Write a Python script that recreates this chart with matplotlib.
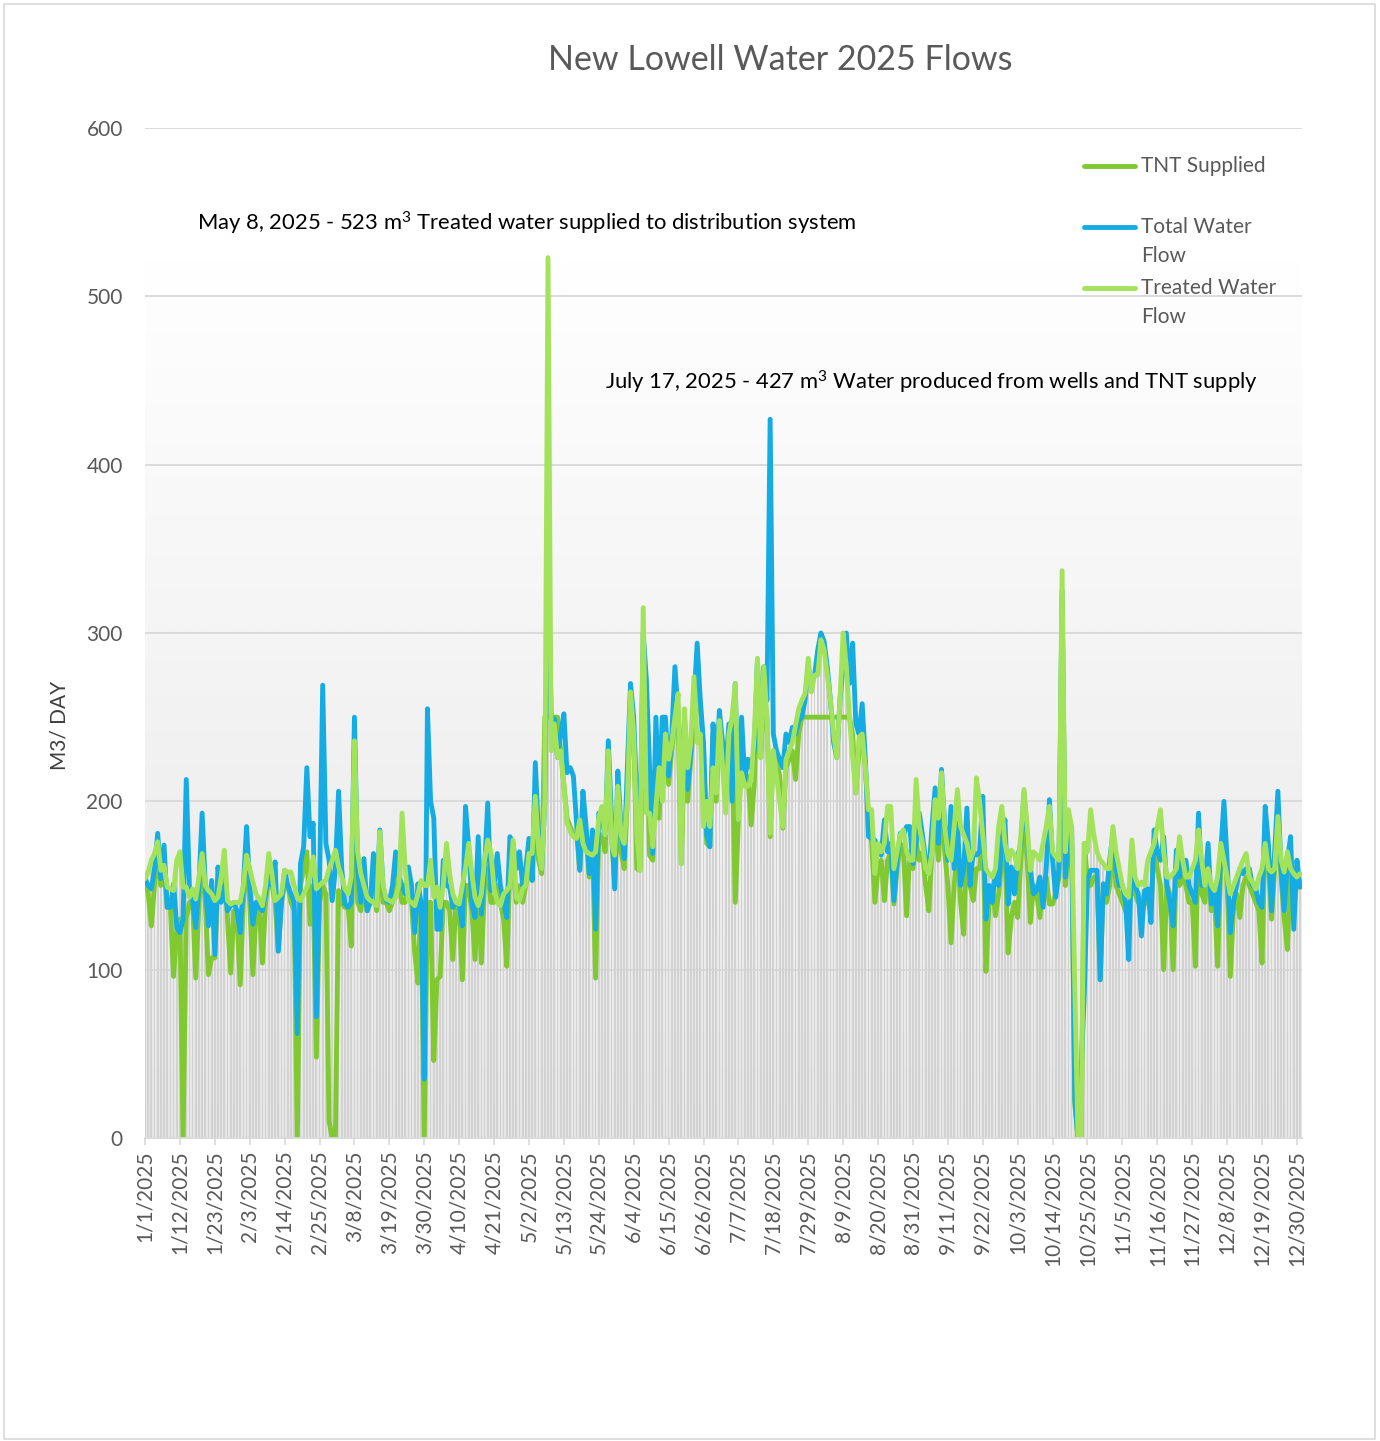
import datetime as dt

import matplotlib

matplotlib.use("Agg")
import matplotlib.pyplot as plt
import numpy as np
from matplotlib.colors import LinearSegmentedColormap
from matplotlib.lines import Line2D
from matplotlib.patches import Rectangle

plt.rcParams["font.family"] = ["Lato", "DejaVu Sans"]
plt.rcParams["mathtext.fontset"] = "custom"
plt.rcParams["mathtext.rm"] = "Lato"
plt.rcParams["mathtext.it"] = "Lato:italic"
plt.rcParams["mathtext.bf"] = "Lato:bold"

W, H = 1380, 1441
START = dt.date(2025, 1, 1)

# daily flows in m3/day (one row per month)
TOTAL_FLOW = [
    154, 150, 148, 160, 181, 154, 174, 137, 137, 151, 125, 122, 130, 213, 149, 141, 125, 150, 193, 150, 126, 153, 109, 161, 140, 150, 135, 138, 140, 135, 122,
    150, 185, 150, 127, 140, 137, 135, 145, 157, 150, 164, 111, 140, 159, 150, 145, 140, 62, 163, 173, 220, 179, 187, 72, 150, 269, 175, 165,
    141, 160, 206, 160, 139, 137, 140, 250, 160, 140, 166, 135, 140, 169, 140, 183, 150, 141, 140, 150, 170, 155, 150, 145, 161, 150, 122, 151, 140, 35, 255,
    200, 190, 124, 124, 165, 150, 149, 137, 140, 140, 126, 197, 173, 139, 131, 179, 133, 160, 199, 147, 150, 169, 150, 140, 131, 179, 175, 160, 170, 150,
    160, 178, 153, 223, 180, 160, 200, 349, 250, 249, 226, 240, 252, 217, 220, 215, 187, 159, 206, 185, 157, 183, 124, 193, 190, 180, 236, 190, 148, 218, 185,
    166, 220, 270, 250, 200, 180, 300, 272, 220, 169, 250, 200, 250, 250, 215, 240, 280, 252, 205, 250, 207, 230, 260, 294, 260, 235, 180, 173, 246, 215,
    254, 235, 221, 246, 200, 270, 189, 250, 213, 225, 220, 230, 284, 230, 280, 260, 427, 240, 230, 225, 220, 240, 235, 244, 240, 248, 250, 260, 280, 270, 275,
    290, 300, 295, 280, 260, 235, 226, 260, 280, 300, 270, 294, 246, 240, 258, 225, 179, 178, 177, 172, 168, 189, 170, 175, 141, 165, 181, 180, 185, 185, 163,
    175, 193, 180, 165, 157, 185, 208, 175, 219, 185, 165, 197, 160, 187, 150, 160, 196, 150, 170, 168, 170, 203, 130, 150, 140, 159, 150, 177, 189, 139,
    161, 145, 167, 175, 205, 180, 159, 145, 147, 155, 137, 160, 201, 165, 143, 160, 325, 155, 177, 185, 23, 0, 40, 86, 153, 159, 159, 159, 94, 151, 145,
    165, 181, 160, 150, 150, 140, 106, 173, 150, 145, 120, 147, 148, 128, 183, 170, 165, 179, 150, 140, 126, 171, 155, 165, 165, 150, 145, 140, 193, 150,
    150, 175, 139, 150, 126, 170, 200, 165, 122, 140, 150, 160, 157, 160, 160, 150, 148, 140, 137, 197, 175, 135, 170, 206, 160, 135, 165, 179, 124, 165, 149,
]

TNT_SUPPLIED = [
    154, 145, 126, 150, 170, 150, 160, 137, 137, 96, 124, 130, 0, 131, 140, 140, 95, 140, 165, 140, 97, 107, 107, 150, 145, 165, 130, 98, 135, 130, 91,
    140, 170, 140, 97, 135, 137, 104, 140, 155, 150, 140, 111, 140, 150, 150, 140, 135, 0, 150, 160, 170, 127, 150, 48, 140, 150, 145, 10,
    0, 0, 147, 140, 137, 137, 114, 235, 140, 135, 150, 135, 140, 160, 135, 170, 140, 140, 135, 140, 160, 150, 140, 140, 150, 140, 110, 92, 140, 0, 140,
    140, 46, 94, 96, 140, 140, 135, 106, 140, 135, 94, 150, 150, 135, 106, 150, 104, 150, 160, 140, 140, 150, 140, 130, 102, 160, 160, 140, 150, 140,
    150, 160, 153, 200, 165, 157, 250, 250, 250, 250, 250, 230, 210, 190, 185, 180, 180, 160, 190, 180, 155, 175, 95, 180, 180, 170, 225, 180, 150, 200, 170,
    160, 200, 255, 240, 160, 159, 250, 255, 168, 165, 230, 190, 230, 240, 210, 230, 250, 245, 163, 230, 200, 225, 250, 280, 255, 230, 175, 173, 240, 200,
    245, 225, 200, 235, 230, 140, 189, 230, 210, 215, 186, 210, 280, 226, 260, 250, 179, 230, 225, 215, 184, 220, 225, 230, 213, 240, 250, 250, 250, 250, 250,
    250, 250, 250, 250, 250, 250, 250, 250, 250, 250, 250, 240, 205, 230, 240, 220, 190, 175, 140, 160, 165, 141, 165, 170, 139, 160, 175, 170, 132, 170, 160,
    175, 165, 170, 150, 135, 170, 190, 165, 200, 170, 150, 116, 150, 175, 140, 121, 185, 150, 141, 160, 160, 190, 99, 140, 150, 132, 145, 165, 170, 110,
    131, 140, 131, 165, 190, 165, 128, 150, 145, 131, 150, 155, 139, 139, 145, 155, 320, 150, 170, 180, 20, 0, 0, 175, 153, 150, 155, 155, 94, 150, 140,
    150, 175, 150, 145, 140, 135, 130, 160, 145, 140, 140, 145, 140, 135, 175, 160, 150, 100, 150, 145, 100, 160, 150, 155, 150, 140, 140, 102, 180, 145,
    140, 165, 135, 145, 102, 160, 185, 150, 96, 135, 145, 131, 150, 155, 150, 145, 140, 135, 104, 180, 165, 130, 160, 190, 155, 130, 112, 160, 140, 150, 150,
]

TREATED_FLOW = [
    154, 158, 165, 169, 176, 159, 162, 149, 148, 147, 165, 170, 149, 149, 143, 148, 142, 155, 169, 150, 147, 145, 141, 143, 155, 171, 141, 139, 140, 140, 140,
    150, 168, 160, 152, 145, 142, 138, 150, 169, 157, 141, 143, 145, 159, 158, 158, 150, 143, 141, 145, 149, 155, 167, 148, 150, 152, 153, 160,
    165, 171, 161, 155, 148, 145, 155, 236, 170, 157, 150, 143, 141, 140, 138, 182, 150, 142, 141, 140, 143, 150, 193, 160, 141, 140, 138, 145, 153, 150, 150,
    165, 143, 149, 137, 150, 175, 157, 145, 140, 139, 150, 160, 175, 157, 143, 138, 145, 165, 177, 170, 148, 140, 138, 145, 147, 150, 177, 143, 141, 148,
    150, 169, 169, 203, 173, 160, 200, 523, 230, 246, 226, 230, 209, 187, 182, 179, 178, 189, 175, 170, 169, 168, 170, 190, 197, 180, 230, 175, 168, 209, 180,
    175, 200, 265, 240, 180, 159, 315, 193, 193, 173, 197, 220, 200, 240, 225, 235, 250, 264, 163, 255, 220, 235, 274, 235, 240, 185, 200, 185, 220, 205,
    248, 221, 193, 240, 250, 270, 189, 217, 209, 209, 212, 240, 285, 226, 280, 250, 181, 230, 215, 200, 185, 225, 230, 235, 245, 255, 260, 264, 285, 265, 275,
    275, 296, 290, 275, 260, 240, 226, 260, 300, 280, 250, 226, 205, 238, 240, 220, 195, 195, 157, 175, 170, 175, 197, 197, 160, 170, 180, 183, 170, 165, 165,
    213, 185, 175, 160, 157, 170, 201, 190, 217, 185, 169, 165, 185, 207, 185, 180, 175, 165, 170, 214, 200, 180, 160, 157, 155, 160, 185, 197, 175, 165,
    171, 168, 160, 180, 207, 185, 159, 170, 168, 165, 175, 185, 197, 170, 167, 165, 337, 170, 195, 185, 90, 0, 0, 175, 170, 195, 180, 170, 165, 163, 160,
    160, 185, 170, 160, 150, 145, 143, 177, 155, 150, 152, 150, 165, 170, 175, 185, 195, 170, 155, 155, 157, 160, 179, 165, 155, 155, 160, 165, 183, 165,
    150, 160, 150, 147, 155, 175, 165, 155, 145, 150, 155, 160, 165, 169, 155, 152, 148, 155, 160, 175, 160, 158, 160, 191, 165, 158, 170, 160, 157, 155, 157,
]

SERIES_NAMES = ["TNT Supplied", "Total Water\nFlow", "Treated Water\nFlow"]
TITLE = "New Lowell Water 2025 Flows"
NOTE_MAY = r"May 8, 2025 - 523 m$^{3}$ Treated water supplied to distribution system"
NOTE_JULY = r"July 17, 2025 - 427 m$^{3}$ Water produced from wells and TNT supply"
Y_TICKS = [0, 100, 200, 300, 400, 500, 600]
TICK_STEP = 11

COL_TNT = "#80c930"
COL_TOTAL = "#14ace3"
COL_TREATED = "#a3e35c"
GREY_TEXT = "#595959"
GRID = "#d9d9d9"


def fx(px):
    return px / W


def fy(py):
    return 1 - py / H


def main():
    n = len(TOTAL_FLOW)
    assert n == len(TNT_SUPPLIED) == len(TREATED_FLOW) == 365
    days = [START + dt.timedelta(days=i) for i in range(n)]
    x = np.arange(n)

    fig = plt.figure(figsize=(W / 100, H / 100), dpi=100)
    fig.patch.set_facecolor("white")
    fig.add_artist(Rectangle((fx(4), fy(1439)), fx(1371), 1435 / H, transform=fig.transFigure,
                             fill=False, edgecolor=GRID, linewidth=1.2))

    ax = fig.add_axes([fx(145), fy(1138), fx(1302 - 145), (1138 - 128) / H])
    ax.set_facecolor("white")
    ax.set_xlim(0, 364.6)
    ax.set_ylim(0, 600)

    # gradient panel behind the data
    cmap = LinearSegmentedColormap.from_list("bg", ["#ffffff", "#f3f3f3", "#e6e6e6"])
    grad = np.linspace(0, 1, 256).reshape(-1, 1)
    ax.imshow(grad, cmap=cmap, aspect="auto", extent=(0, 364.6, 0, max(TREATED_FLOW)),
              origin="upper", zorder=0, interpolation="bilinear")

    # thin grey columns under the lines
    ax.bar(x, TREATED_FLOW, width=0.55, color="#d2d2d2", linewidth=0, zorder=1)

    for v in Y_TICKS[1:]:
        ax.axhline(v, color=GRID, linewidth=1.3, zorder=0.5)

    kw = dict(linewidth=3.5, solid_joinstyle="round", solid_capstyle="round")
    ax.plot(x, TNT_SUPPLIED, color=COL_TNT, zorder=3, **kw)
    ax.plot(x, TOTAL_FLOW, color=COL_TOTAL, zorder=4, **kw)
    ax.plot(x, TREATED_FLOW, color=COL_TREATED, zorder=5, **kw)

    for s in ["top", "right", "left"]:
        ax.spines[s].set_visible(False)
    ax.spines["bottom"].set_color(GRID)
    ax.spines["bottom"].set_linewidth(1.3)
    ax.spines["bottom"].set_zorder(6)

    ticks = x[::TICK_STEP]
    ax.set_xticks(ticks)
    ax.set_xticklabels([f"{d.month}/{d.day}/{d.year}" for d in days[::TICK_STEP]],
                       rotation=90, fontsize=15, color=GREY_TEXT)
    ax.tick_params(axis="x", direction="out", length=5, width=1.2, color=GRID, pad=4)
    ax.set_yticks(Y_TICKS)
    ax.set_yticklabels([str(v) for v in Y_TICKS], fontsize=15, color=GREY_TEXT)
    ax.tick_params(axis="y", length=0, pad=16)

    fig.text(fx(60), fy(725), "M3/ DAY", rotation=90, ha="center", va="center",
             fontsize=15, color="#404040")
    fig.text(fx(780), fy(60), TITLE, ha="center", va="center", fontsize=24.5, color=GREY_TEXT)
    fig.text(fx(197), fy(223), NOTE_MAY, ha="left", va="center", fontsize=15.8, color="black")
    fig.text(fx(605), fy(382), NOTE_JULY, ha="left", va="center", fontsize=15.8, color="black")

    # legend drawn by hand to keep the wrapped labels aligned like the original
    for i, (name, col) in enumerate(zip(SERIES_NAMES, [COL_TNT, COL_TOTAL, COL_TREATED])):
        ly = 166 + 61 * i
        fig.add_artist(Line2D([fx(1084), fx(1135)], [fy(ly), fy(ly)], transform=fig.transFigure,
                              color=col, linewidth=3.5, solid_capstyle="round"))
        for j, part in enumerate(name.split("\n")):
            fig.text(fx(1141), fy(ly + 29 * j), part, ha="left", va="center",
                     fontsize=15, color=GREY_TEXT)

    fig.savefig("out.png", dpi=100)


if __name__ == "__main__":
    main()
